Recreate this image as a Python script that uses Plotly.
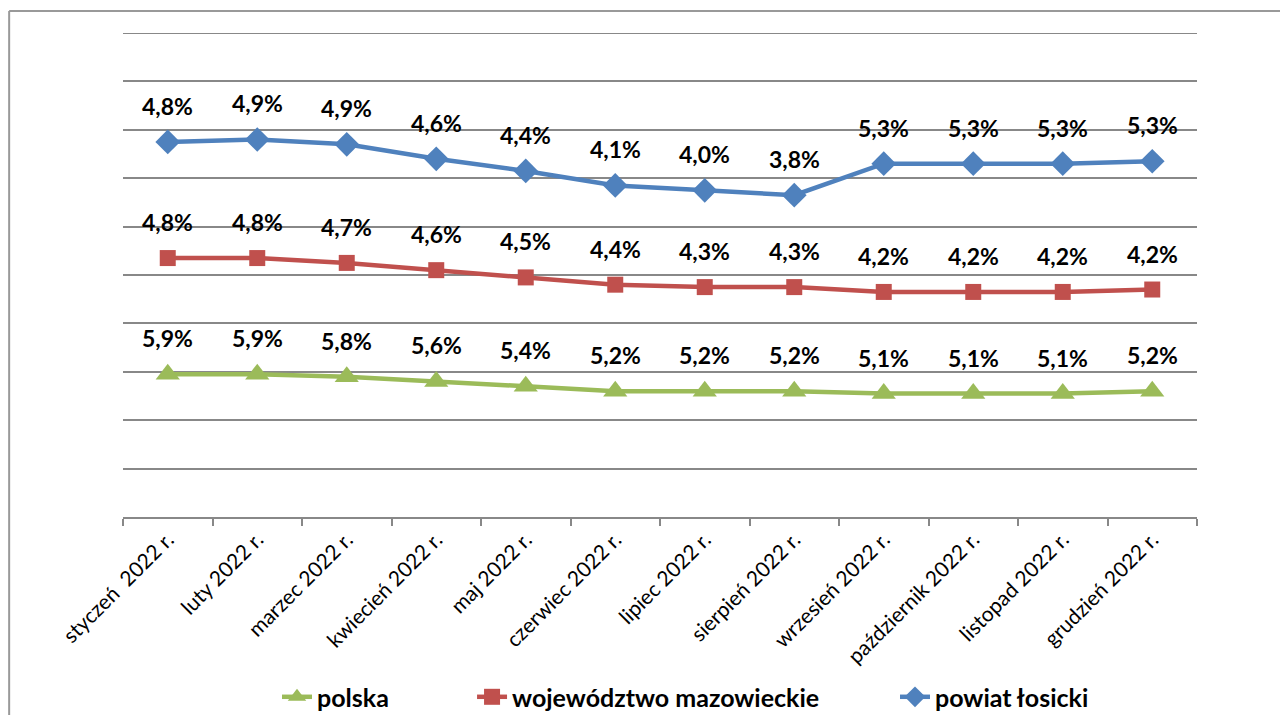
import numpy as np
import plotly.graph_objects as go

categories = ["styczeń  2022 r.", "luty 2022 r.", "marzec 2022 r.", "kwiecień 2022 r.",
              "maj 2022 r.", "czerwiec 2022 r.", "lipiec 2022 r.", "sierpień 2022 r.",
              "wrzesień 2022 r.", "październik 2022 r.", "listopad 2022 r.", "grudzień 2022 r."]
polska = [5.9, 5.9, 5.8, 5.6, 5.4, 5.2, 5.2, 5.2, 5.1, 5.1, 5.1, 5.2]
mazowieckie = [4.8, 4.8, 4.7, 4.6, 4.5, 4.4, 4.3, 4.3, 4.2, 4.2, 4.2, 4.2]
losicki = [4.8, 4.9, 4.9, 4.6, 4.4, 4.1, 4.0, 3.8, 5.3, 5.3, 5.3, 5.3]

series = [
    ("polska", polska, "#9BBB59", "triangle-up", 21, "legend", 0.1434),
    ("województwo mazowieckie", mazowieckie, "#C0504D", "square", 16, "legend2", 0.325),
    ("powiat łosicki", losicki, "#4F81BD", "diamond", 19, "legend3", 0.7188),
]

FONT = "Lato, 'Open Sans', sans-serif"

fig = go.Figure()
cum = np.zeros(len(categories))
annotations = []
legends = {}
for name, vals, color, symbol, msize, leg, lx in series:
    fig.add_trace(go.Scatter(
        x=categories, y=vals, name=name, mode="lines+markers",
        stackgroup="one", fill="none", legend=leg,
        line=dict(color=color, width=4.5),
        marker=dict(symbol=symbol, size=msize, color=color),
    ))
    legends[leg] = dict(orientation="h", x=lx, xanchor="left", y=-0.372, yanchor="middle",
                        font=dict(family=FONT, size=25, color="#000", weight="bold"),
                        bgcolor="rgba(0,0,0,0)")
    cum = cum + np.array(vals)
    for c, yv, v in zip(categories, cum, vals):
        annotations.append(dict(
            x=c, y=float(yv), xref="x", yref="y", yshift=36, showarrow=False,
            text=f"{v:.1f}%".replace(".", ","),
            font=dict(family=FONT, size=23, color="#000", weight="bold"),
        ))

shapes = [
    dict(type="line", xref="paper", yref="paper", x0=-0.106, x1=1.2, y0=1.0455, y1=1.0455,
         line=dict(color="#999", width=2)),
    dict(type="line", xref="paper", yref="paper", x0=-0.106, x1=-0.106, y0=1.0455, y1=-0.5,
         line=dict(color="#999", width=2)),
    dict(type="line", xref="paper", yref="y", x0=0, x1=1, y0=20, y1=20, layer="below",
         line=dict(color="#888", width=2)),
]

fig.update_layout(
    width=1288, height=715,
    margin=dict(l=115, r=99, t=25, b=206, autoexpand=False),
    paper_bgcolor="white", plot_bgcolor="white",
    showlegend=True,
    annotations=annotations,
    shapes=shapes,
    xaxis=dict(
        type="category", range=[-0.5, 11.5], tickangle=-45, automargin=False,
        tickson="boundaries", ticks="outside", ticklen=7, tickcolor="#888", tickwidth=2,
        showline=True, linecolor="#888", linewidth=2, showgrid=False,
        tickfont=dict(family=FONT, size=21, color="#000"),
    ),
    yaxis=dict(
        range=[0, 20.0001], dtick=2, showticklabels=False, showgrid=True,
        gridcolor="#888", gridwidth=2, zeroline=False, showline=False, ticks="",
        automargin=False,
    ),
    **legends,
)

fig.write_html("out.html")
